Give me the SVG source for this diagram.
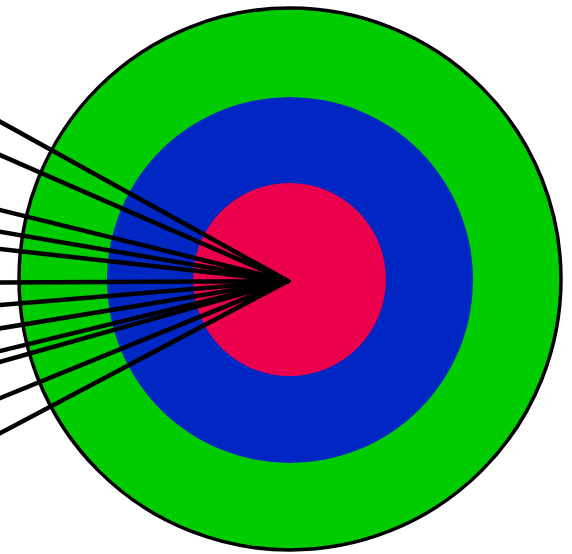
<svg xmlns="http://www.w3.org/2000/svg" width="572" height="554" viewBox="0 0 572 554">
<style>
.ray{stroke:#000;stroke-width:4.5;stroke-linecap:round;fill:none}
</style>
<rect width="572" height="554" fill="#fff"/>
<g id="outer"><circle cx="290" cy="279" r="271" fill="#00CC00" stroke="#000" stroke-width="3.5"/></g>
<g id="middle"><circle cx="290" cy="280" r="183" fill="#0026C4"/></g>
<g id="inner"><circle cx="289.5" cy="279.5" r="96.5" fill="#EC004C"/></g>
<g id="connectors" class="ray">
<line x1="-10" y1="116.1" x2="288" y2="281"/>
<line x1="-10" y1="150.6" x2="288" y2="281"/>
<line x1="-10" y1="207.5" x2="288" y2="281"/>
<line x1="-10" y1="230.0" x2="288" y2="281"/>
<line x1="-10" y1="247.9" x2="288" y2="281"/>
<line x1="-10" y1="282.6" x2="288" y2="281"/>
<line x1="-10" y1="305.8" x2="288" y2="281"/>
<line x1="-10" y1="330.0" x2="288" y2="281"/>
<line x1="-10" y1="353.4" x2="288" y2="281"/>
<line x1="-10" y1="364.6" x2="288" y2="281"/>
<line x1="-10" y1="402.2" x2="288" y2="281"/>
<line x1="-10" y1="438.5" x2="288" y2="281"/>
</g>
</svg>
